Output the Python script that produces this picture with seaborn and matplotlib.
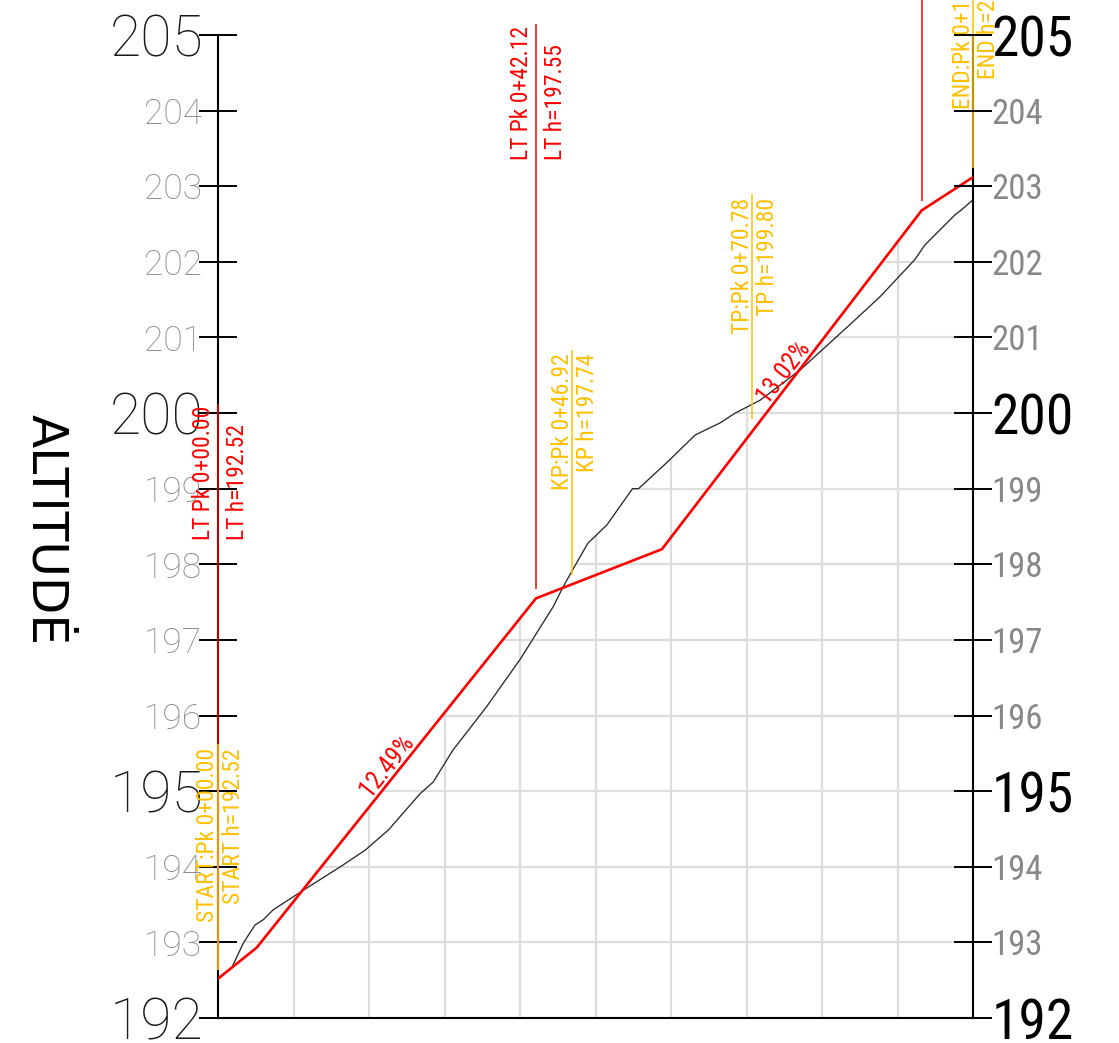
import numpy as np
import pandas as pd
import matplotlib
matplotlib.use("Agg")
import matplotlib.pyplot as plt
import matplotlib.transforms as mtransforms
from matplotlib.patches import Polygon
import seaborn as sns

# ---------------- data ----------------
terrain_pk = [1.8, 3.35, 4.9, 6.0, 7.3, 11.3, 16.2, 19.5, 22.6, 26.8, 28.5, 31.1,
              35.6, 40.0, 44.4, 45.7, 47.5, 49.0, 51.5, 53.2, 54.9, 55.7, 59.6,
              63.2, 66.5, 68.5, 71.8, 77.1, 83.7, 87.7, 92.3, 93.6, 97.6, 98.5, 100.0]
terrain_h = [192.66, 192.99, 193.23, 193.30, 193.43, 193.69, 194.00, 194.22, 194.49,
             194.97, 195.12, 195.54, 196.12, 196.74, 197.44, 197.70, 198.02, 198.28,
             198.52, 198.76, 199.00, 199.00, 199.36, 199.71, 199.87, 200.00, 200.17,
             200.57, 201.17, 201.54, 202.03, 202.22, 202.62, 202.69, 202.82]

design_pk = [0.0, 5.12, 42.12, 58.8, 93.2, 100.0]
design_h = [192.52, 192.93, 197.55, 198.20, 202.68, 203.12]

grade_labels = ["12.49%", "13.02%"]
grade_pk = [23.6, 76.1]
grade_seg = [(1, 2), (3, 4)]

lt_pk = [0.0, 42.12, 93.2]
lt_h = [192.52, 197.55, 202.69]

pt_names = ["START", "KP", "TP", "END"]
pt_pk = [0.0, 46.92, 70.78, 100.0]
pt_h = [192.52, 197.74, 199.80, 203.12]

major_ticks = [192, 195, 200, 205]
minor_ticks = [193, 194, 196, 197, 198, 199, 201, 202, 203, 204]
grid_x = [10, 20, 30, 40, 50, 60, 70, 80, 90]

# ---------------- style ----------------
sns.set_style("white")
plt.rcParams["font.family"] = ["DejaVu Sans"]

RED = "#FF0000"
ORANGE = "#FFC000"
NARROW = ["Liberation Sans Narrow", "Roboto Condensed", "Roboto", "DejaVu Sans"]
THIN = ["Roboto", "DejaVu Sans"]

W, H = 1119, 1043
fig = plt.figure(figsize=(W / 100, H / 100), dpi=100)
ax = fig.add_axes([218 / W, 25 / H, 755 / W, 983 / H])
ax.set_xlim(0, 100)
ax.set_ylim(192, 205)

# grid clipped below the upper envelope of terrain and design lines
xs = np.union1d(terrain_pk, design_pk)
env = np.maximum(np.interp(xs, terrain_pk, terrain_h), np.interp(xs, design_pk, design_h))
poly = Polygon([(0, 192)] + list(zip(xs, env)) + [(100, 192)], closed=True,
               transform=ax.transData)
gv = ax.vlines(grid_x, 192, 205, color="#dddddd", lw=1.6, zorder=0.5)
gh = ax.hlines(minor_ticks + major_ticks[1:], 0, 100, color="#dddddd", lw=1.6, zorder=0.5)
gv.set_clip_path(poly)
gh.set_clip_path(poly)

# lines
sns.lineplot(x=terrain_pk, y=terrain_h, ax=ax, color="#2a2a2a", lw=0.95,
             sort=False, estimator=None, zorder=2)
sns.lineplot(x=design_pk, y=design_h, ax=ax, color=RED, lw=1.9,
             sort=False, estimator=None, zorder=3)
ax.set_xlabel("")
ax.set_ylabel("")

# axes styling
ax.set_xticks([])
for s in ["left", "right", "bottom"]:
    ax.spines[s].set_visible(True)
    ax.spines[s].set_color("black")
    ax.spines[s].set_linewidth(1.5)
ax.spines["top"].set_visible(False)

# left axis
ax.set_yticks(major_ticks, labels=[str(v) for v in major_ticks])
ax.set_yticks(minor_ticks, labels=[str(v) for v in minor_ticks], minor=True)
ax.tick_params(axis="y", which="both", direction="inout", length=27, width=1.4,
               left=True, right=False, labelleft=True, labelright=False, color="black")
ax.tick_params(axis="y", which="major", pad=-3)
ax.tick_params(axis="y", which="minor", pad=-2)
for t in ax.yaxis.get_major_ticks():
    t.label1.set_fontfamily(THIN)
    t.label1.set_fontweight("light")
    t.label1.set_fontsize(41)
    t.label1.set_color("#1a1a1a")
for t in ax.yaxis.get_minor_ticks():
    t.label1.set_fontfamily(THIN)
    t.label1.set_fontweight("light")
    t.label1.set_fontsize(25.5)
    t.label1.set_color("#8a8a8a")

# right axis
ax2 = ax.twinx()
ax2.set_ylim(192, 205)
for s in ax2.spines.values():
    s.set_visible(False)
ax2.set_yticks(major_ticks, labels=[str(v) for v in major_ticks])
ax2.set_yticks(minor_ticks, labels=[str(v) for v in minor_ticks], minor=True)
ax2.tick_params(axis="y", which="both", direction="inout", length=27, width=1.4,
                left=False, right=True, labelleft=False, labelright=True,
                color="black", pad=0)
for t in ax2.yaxis.get_major_ticks():
    t.label2.set_fontfamily(NARROW)
    t.label2.set_fontsize(40)
    t.label2.set_color("black")
for t in ax2.yaxis.get_minor_ticks():
    t.label2.set_fontfamily(NARROW)
    t.label2.set_fontsize(25)
    t.label2.set_color("#888888")

fig.text(46 / W, 1 - 530 / H, "ALTITUDĖ", rotation=-90, ha="center", va="center",
         fontsize=35, color="black", family=["DejaVu Sans"])


def shifted(dx_px):
    return ax.transData + mtransforms.ScaledTranslation(dx_px / 100, 0, fig.dpi_scale_trans)


TXT = 17

# LT markers (red)
ax.vlines(lt_pk, [h + 0.12 for h in lt_h], [h + 7.6 for h in lt_h], color=RED,
          lw=1.1, zorder=4, clip_on=False)
for pk, h in zip(lt_pk, lt_h):
    ax.text(pk, h + 5.8, f"LT Pk 0+{pk:05.2f}", rotation=90, rotation_mode="anchor",
            ha="left", va="baseline", color=RED, fontsize=TXT, family=NARROW,
            transform=shifted(-8.5), clip_on=False, zorder=6)
    ax.text(pk, h + 5.8, f"LT h={h:.2f}", rotation=90, rotation_mode="anchor",
            ha="left", va="baseline", color=RED, fontsize=TXT, family=NARROW,
            transform=shifted(26), clip_on=False, zorder=6)

# key points (orange)
ax.vlines(pt_pk, [h + 0.12 for h in pt_h], [h + 3.1 for h in pt_h], color=ORANGE,
          lw=1.1, zorder=5, clip_on=False)
for name, pk, h in zip(pt_names, pt_pk, pt_h):
    ax.text(pk, h + 3.05, f"{name}:Pk 0+{pk:05.2f}", rotation=90, rotation_mode="anchor",
            ha="right", va="baseline", color=ORANGE, fontsize=TXT, family=NARROW,
            transform=shifted(-3.5), clip_on=False, zorder=6)
    ax.text(pk, h + 3.05, f"{name} h={h:.2f}", rotation=90, rotation_mode="anchor",
            ha="right", va="baseline", color=ORANGE, fontsize=TXT, family=NARROW,
            transform=shifted(22), clip_on=False, zorder=6)

# grade labels
for lab, pk, (i, j) in zip(grade_labels, grade_pk, grade_seg):
    p0 = ax.transData.transform((design_pk[i], design_h[i]))
    p1 = ax.transData.transform((design_pk[j], design_h[j]))
    ang = np.degrees(np.arctan2(p1[1] - p0[1], p1[0] - p0[0]))
    yv = np.interp(pk, design_pk, design_h)
    ax.text(pk, yv, lab, rotation=ang, rotation_mode="anchor", ha="center", va="bottom",
            color=RED, fontsize=18, family=NARROW, zorder=6)

fig.savefig("out.png", dpi=100)
